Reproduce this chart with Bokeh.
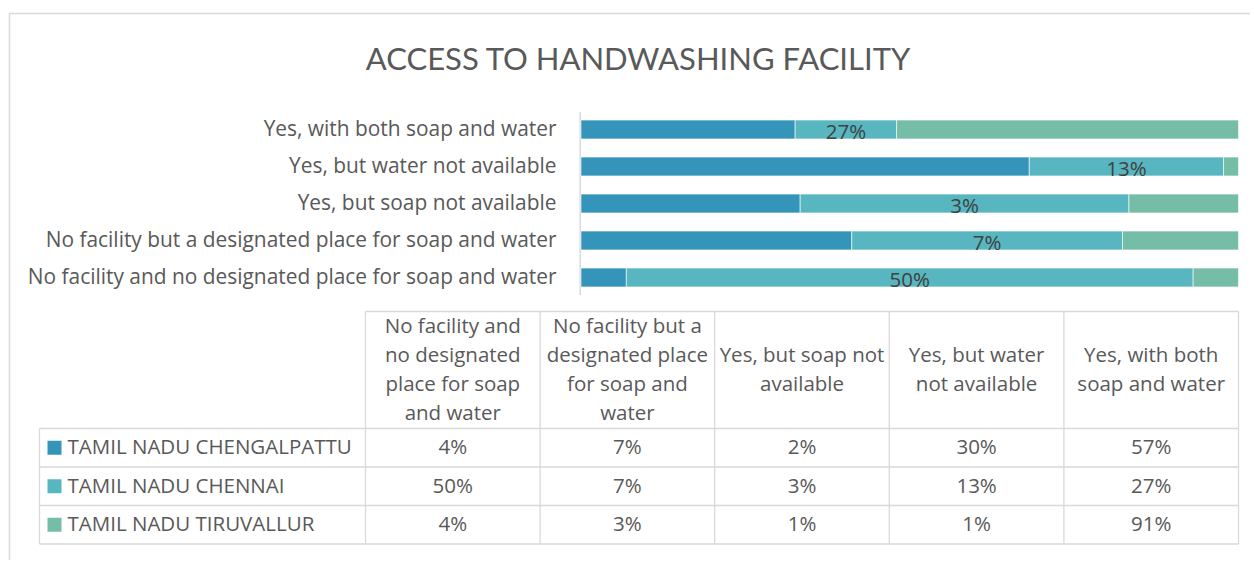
import textwrap
from bokeh.plotting import figure
from bokeh.models import Range1d, ColumnDataSource
from bokeh.core.properties import value
from bokeh.embed import file_html
from bokeh.resources import INLINE

# ---------------- data ----------------
title = "ACCESS TO HANDWASHING FACILITY"
categories = [
    "No facility and no designated place for soap and water",
    "No facility but a designated place for soap and water",
    "Yes, but soap not available",
    "Yes, but water not available",
    "Yes, with both soap and water",
]
series_names = ["TAMIL NADU CHENGALPATTU", "TAMIL NADU CHENNAI", "TAMIL NADU TIRUVALLUR"]
chengalpattu = [4, 7, 2, 30, 57]
chennai = [50, 7, 3, 13, 27]
tiruvallur = [4, 3, 1, 1, 91]
series_values = [chengalpattu, chennai, tiruvallur]
colors = ["#3494BA", "#58B6C0", "#75BDA7"]
labeled_series = 1  # only the Chennai series carries data labels

# ---------------- styling / layout ----------------
W, H = 1250, 560
FONT = value("Open Sans")
TFONT = value("Lato")
TXT = "#595959"
LBL = "#404040"
GRID = "#D9D9D9"
FS = "20.5px"
DY = -1.5  # small vertical nudge for text

BAR_L, BAR_R = 580.5, 1238.0
BW = BAR_R - BAR_L
ROW0, ROW_H = 129.0, 37.0
BAR_HEIGHT = 0.51

TAB_X0, TAB_X1 = 365.0, 1238.0
COL_W = (TAB_X1 - TAB_X0) / len(categories)
LEG_X0 = 39.0
HEAD_TOP, ROW_Y0, TROW_H = 311.0, 428.0, 38.5
HEAD_LINE = 29.3

p = figure(width=W, height=H, x_range=Range1d(0, W), y_range=Range1d(H, 0),
           output_backend="svg", toolbar_location=None, min_border=0,
           x_axis_location=None, y_axis_location=None)
p.grid.visible = False
p.outline_line_color = None
p.background_fill_color = "white"
p.border_fill_color = "white"

p.extra_x_ranges = {
    "bx": Range1d(start=-BAR_L / BW, end=(W - BAR_L) / BW),
    "tx": Range1d(start=-TAB_X0 / COL_W, end=(W - TAB_X0) / COL_W),
}
p.extra_y_ranges = {
    "by": Range1d(start=(H - ROW0) / ROW_H, end=-ROW0 / ROW_H),
    "ty": Range1d(start=(H - ROW_Y0) / TROW_H, end=-ROW_Y0 / TROW_H),
}

# chart border (left and top edges visible)
p.segment(x0=[9, 9], y0=[13, 13], x1=[9, W], y1=[H, 13], line_color=GRID, line_width=1.5)

# title
p.text(x=[638], y=[57.5], text=[title], text_font=TFONT, text_font_size="31px",
       text_color=TXT, text_align="center", text_baseline="middle", y_offset=-0.5)

# ---------------- stacked 100% bars ----------------
n = len(categories)
rows = [n - 1 - j for j in range(n)]
totals = [sum(s[j] for s in series_values) for j in range(n)]

# category axis line
p.segment(x0=[-0.0012], y0=[-0.47], x1=[-0.0012], y1=[n - 0.53], x_range_name="bx", y_range_name="by",
          line_color=GRID, line_width=1.5)

cum = [0.0] * n
for k, vals in enumerate(series_values):
    left = [cum[j] for j in range(n)]
    right = [cum[j] + vals[j] / totals[j] for j in range(n)]
    cum = right
    src = ColumnDataSource(dict(y=rows, left=left, right=right,
                                mid=[(a + b) / 2 for a, b in zip(left, right)],
                                lab=[f"{v}%" for v in vals]))
    p.hbar(y="y", left="left", right="right", height=BAR_HEIGHT, source=src,
           x_range_name="bx", y_range_name="by",
           fill_color=colors[k], line_color="white", line_width=0.6)
    if k == labeled_series:
        p.text(x="mid", y="y", text="lab", source=src, x_range_name="bx", y_range_name="by",
               text_font=FONT, text_font_size=FS, text_color=LBL,
               text_align="center", text_baseline="middle", y_offset=3 + DY)

# category labels
p.text(x=[556] * n, y=rows, text=categories, y_range_name="by",
       text_font=FONT, text_font_size="20.9px", text_color=TXT,
       text_align="right", text_baseline="middle", y_offset=DY)

# ---------------- data table ----------------
ns = len(series_names)
head_top = -(ROW_Y0 - HEAD_TOP) / TROW_H
leg_left = -(TAB_X0 - LEG_X0) / COL_W

# horizontal lines
hx0 = [0] + [leg_left] * (ns + 1)
hx1 = [n] * (ns + 2)
hy = [head_top] + [float(r) for r in range(ns + 1)]
p.segment(x0=hx0, y0=hy, x1=hx1, y1=hy, x_range_name="tx", y_range_name="ty",
          line_color=GRID, line_width=1.3)
# vertical lines
vx = [leg_left] + [float(c) for c in range(n + 1)]
vy0 = [0.0] + [head_top] * (n + 1)
vy1 = [float(ns)] * (n + 2)
p.segment(x0=vx, y0=vy0, x1=vx, y1=vy1, x_range_name="tx", y_range_name="ty",
          line_color=GRID, line_width=1.3)

# header text (wrapped category names)
hx, hyl, ht = [], [], []
head_mid = head_top / 2
for c, cat in enumerate(categories):
    lines = textwrap.wrap(cat, 17)
    m = len(lines)
    for i, ln in enumerate(lines):
        hx.append(c + 0.5)
        hyl.append(head_mid + (i - (m - 1) / 2) * HEAD_LINE / TROW_H)
        ht.append(ln)
p.text(x=hx, y=hyl, text=ht, x_range_name="tx", y_range_name="ty",
       text_font=FONT, text_font_size=FS, text_color=TXT,
       text_align="center", text_baseline="middle", y_offset=DY)

# cell values
cx, cy, ct = [], [], []
for r, vals in enumerate(series_values):
    for c, v in enumerate(vals):
        cx.append(c + 0.5)
        cy.append(r + 0.5)
        ct.append(f"{v}%")
p.text(x=cx, y=cy, text=ct, x_range_name="tx", y_range_name="ty",
       text_font=FONT, text_font_size=FS, text_color=TXT,
       text_align="center", text_baseline="middle", y_offset=DY)

# legend keys + series names
ry = [r + 0.5 for r in range(ns)]
p.scatter(x=[LEG_X0 + 15] * ns, y=ry, y_range_name="ty", marker="square", size=14,
          fill_color=colors, line_color=None)
p.text(x=[LEG_X0 + 28] * ns, y=ry, text=series_names, y_range_name="ty",
       text_font=FONT, text_font_size=FS, text_color=TXT,
       text_align="left", text_baseline="middle", y_offset=DY)

open("out.html", "w").write(file_html(p, INLINE))
